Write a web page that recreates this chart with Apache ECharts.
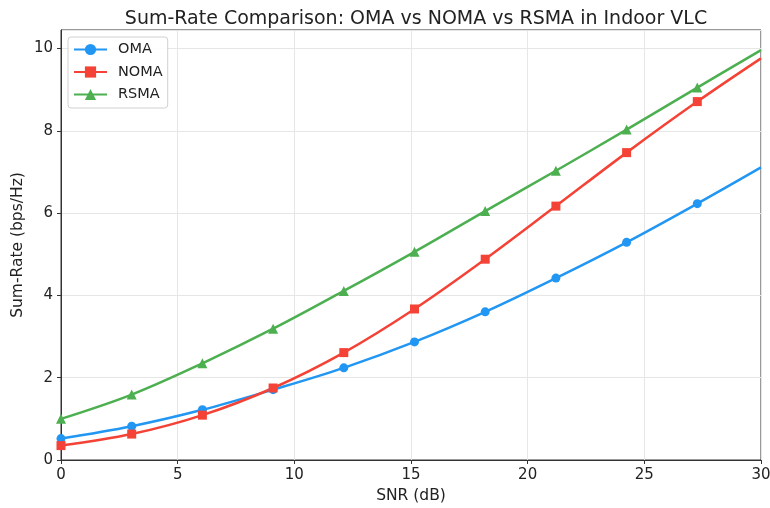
<!DOCTYPE html>
<html>
<head>
<meta charset="utf-8">
<script src="https://cdn.jsdelivr.net/npm/echarts@6/dist/echarts.min.js"></script>
<style>
	html, body { margin: 0; padding: 0; background: #fff; }
	#chart { width: 770px; height: 508px; }
</style>
</head>
<body>
<div id="chart"></div>
<script>
// SNR points where markers are drawn (last point at 30 dB has no marker)
const snrDb = [0, 3.03, 6.06, 9.09, 12.12, 15.15, 18.18, 21.21, 24.24, 27.27, 30];
const omaRate = [0.52, 0.82, 1.22, 1.71, 2.24, 2.87, 3.60, 4.42, 5.29, 6.23, 7.11];
const nomaRate = [0.35, 0.63, 1.09, 1.75, 2.61, 3.67, 4.88, 6.17, 7.47, 8.71, 9.76];
const rsmaRate = [1.00, 1.59, 2.35, 3.19, 4.11, 5.06, 6.05, 7.03, 8.03, 9.05, 9.96];
const xTicks = [0, 5, 10, 15, 20, 25, 30];
const yTicks = [0, 2, 4, 6, 8, 10];

const font = "DejaVu Sans";

function toPoints(ys) {
	let pts = [];
	for (let i = 0; i < snrDb.length; i++) {
		if (i === snrDb.length - 1) {
			pts.push({ value: [snrDb[i], ys[i]], symbol: "none" });
		} else {
			pts.push([snrDb[i], ys[i]]);
		}
	}
	return pts;
}

function makeSeries(name, ys, color, symbol, size) {
	return {
		name: name,
		type: "line",
		data: toPoints(ys),
		smooth: 0.35,
		symbol: symbol,
		symbolSize: size,
		showAllSymbol: true,
		lineStyle: { color: color, width: 2.5 },
		itemStyle: { color: color },
		emphasis: { disabled: true }
	};
}

let chart = echarts.init(document.getElementById("chart"));
let option = {
	animation: false,
	textStyle: { fontFamily: font },
	title: {
		text: "Sum-Rate Comparison: OMA vs NOMA vs RSMA in Indoor VLC",
		left: 411,
		textAlign: "center",
		top: 5,
		textStyle: { fontFamily: font, fontSize: 19, fontWeight: "normal", color: "#222" }
	},
	legend: {
		orient: "vertical",
		left: 68,
		top: 37,
		padding: [5, 5, 6, 5],
		itemGap: 7.5,
		itemWidth: 33,
		itemHeight: 14,
		borderColor: "#d0d0d0",
		borderWidth: 1,
		borderRadius: 3,
		backgroundColor: "rgba(255,255,255,0.85)",
		textStyle: { fontFamily: font, fontSize: 14.5, color: "#222", padding: [0, 0, 0, 6] },
		data: ["OMA", "NOMA", "RSMA"]
	},
	grid: {
		left: 61,
		right: 9,
		top: 30,
		bottom: 48,
		outerBoundsMode: "none",
		show: true,
		borderColor: "#333",
		borderWidth: 1
	},
	xAxis: {
		type: "value",
		min: xTicks[0],
		max: xTicks[xTicks.length - 1],
		interval: 5,
		name: "SNR (dB)",
		nameLocation: "middle",
		nameGap: 28,
		nameMoveOverlap: false,
		nameTextStyle: { fontFamily: font, fontSize: 15.5, color: "#222" },
		axisLine: { show: true, lineStyle: { color: "#333" } },
		axisTick: { show: true, length: 4, lineStyle: { color: "#333" } },
		axisLabel: { fontFamily: font, fontSize: 15, color: "#222", margin: 8 },
		splitLine: { show: true, lineStyle: { color: "#e6e6e6", width: 1 } }
	},
	yAxis: {
		type: "value",
		min: yTicks[0],
		max: 10.45,
		interval: 2,
		name: "Sum-Rate (bps/Hz)",
		nameLocation: "middle",
		nameGap: 35,
		nameMoveOverlap: false,
		nameTextStyle: { fontFamily: font, fontSize: 15.5, color: "#222" },
		axisLine: { show: true, lineStyle: { color: "#333" } },
		axisTick: { show: true, length: 4, lineStyle: { color: "#333" } },
		axisLabel: { fontFamily: font, fontSize: 15, color: "#222", margin: 8, showMaxLabel: false },
		splitLine: { show: true, lineStyle: { color: "#e6e6e6", width: 1 } }
	},
	series: [
		makeSeries("OMA", omaRate, "#2196F3", "circle", 9),
		makeSeries("NOMA", nomaRate, "#F44336", "rect", 9),
		makeSeries("RSMA", rsmaRate, "#4CAF50", "triangle", 10)
	]
};
chart.setOption(option);
</script>
</body>
</html>
